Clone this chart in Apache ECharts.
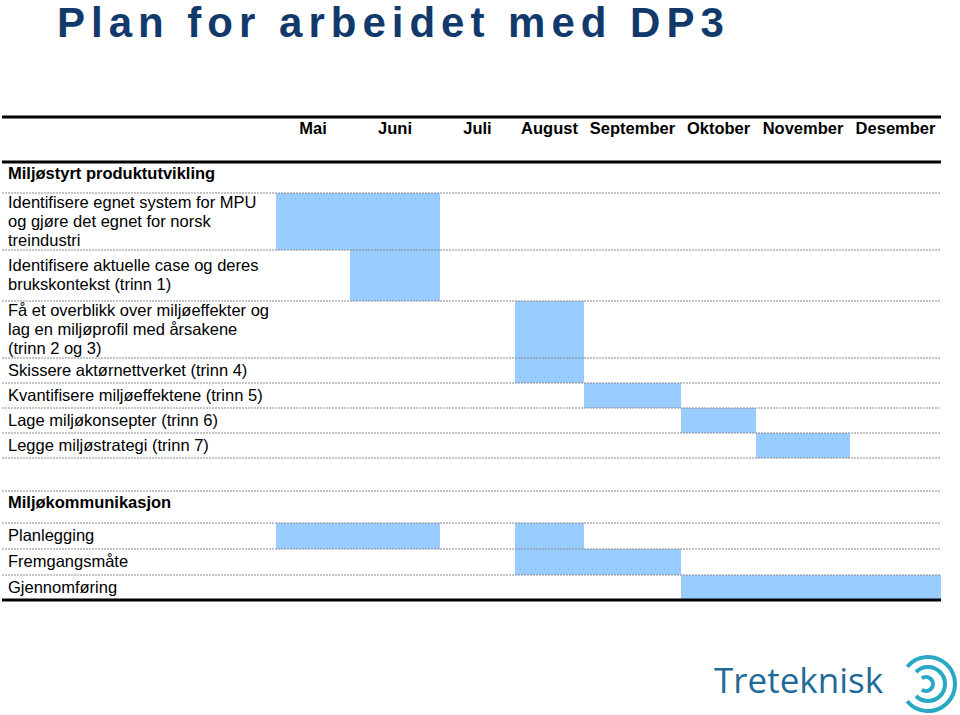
<!DOCTYPE html>
<html><head><meta charset="utf-8">
<script src="https://cdn.jsdelivr.net/npm/echarts@6/dist/echarts.min.js"></script>
<style>html,body{margin:0;padding:0;background:#fff}#chart{width:960px;height:715px}</style>
</head><body><div id="chart"></div>
<script>
// ---------- data ----------
const TITLE = 'Plan for arbeidet med DP3';
const LOGO = 'Treteknisk';
const months = ['Mai','Juni','Juli','August','September','Oktober','November','Desember'];
const rowLabels = [
  '',
  'Miljøstyrt produktutvikling',
  'Identifisere egnet system for MPU\nog gjøre det egnet for norsk\ntreindustri',
  'Identifisere aktuelle case og deres\nbrukskontekst (trinn 1)',
  'Få et overblikk over miljøeffekter og\nlag en miljøprofil med årsakene\n(trinn 2 og 3)',
  'Skissere aktørnettverket (trinn 4)',
  'Kvantifisere miljøeffektene (trinn 5)',
  'Lage miljøkonsepter (trinn 6)',
  'Legge miljøstrategi (trinn 7)',
  '',
  'Miljøkommunikasjon',
  'Planlegging',
  'Fremgangsmåte',
  'Gjennomføring'
];
const sectionRows = [1, 10];
// task bars: row index, first month index, last month index
const taskRow        = [2, 3, 4, 5, 6, 7, 8, 11, 11, 12, 13];
const taskStartMonth = [0, 1, 3, 3, 4, 5, 6, 0,  3,  3,  5];
const taskEndMonth   = [1, 1, 3, 3, 4, 5, 6, 1,  3,  4,  7];

// ---------- table layout (column widths / row heights of the table) ----------
const labelColWidth = 274;
const monthColWidths = [74, 90, 75, 69, 97, 75, 94, 91];
const rowHeights = [45, 31, 57, 51, 57, 25, 25, 25, 25, 33, 32, 26, 26, 25];

const colEdges = [labelColWidth];
monthColWidths.forEach(w => colEdges.push(colEdges[colEdges.length - 1] + w));
const xMax = colEdges[colEdges.length - 1];
const rowEdges = [0];
rowHeights.forEach(h => rowEdges.push(rowEdges[rowEdges.length - 1] + h));
const yMax = rowEdges[rowEdges.length - 1];

const monthCenters = months.map((m, i) => (colEdges[i] + colEdges[i + 1]) / 2);
const labelRows = rowLabels.map((l, i) => i).filter(i => rowLabels[i] !== '');
const labelPos = labelRows.map(i => (rowEdges[i] + rowEdges[i + 1]) / 2 - (sectionRows.includes(i) ? 5 : 1));
const labelByPos = new Map(labelPos.map((p, k) => [p, labelRows[k]]));
const monthByPos = new Map(monthCenters.map((p, k) => [p, months[k]]));

const barData = taskRow.map((r, k) => [colEdges[taskStartMonth[k]], colEdges[taskEndMonth[k] + 1], rowEdges[r], rowEdges[r + 1]]);
const sepData = rowEdges.map((y, i) => [y, (i === 0 || i === 1 || i === rowEdges.length - 1) ? 1 : 0]);

const FONT = '"Liberation Sans", Arial, Helvetica, sans-serif';

const chart = echarts.init(document.getElementById('chart'), null, {renderer: 'svg'});
chart.setOption({
  animation: false,
  backgroundColor: '#fff',
  title: {
    text: TITLE, left: 57, top: -1, padding: 0,
    textStyle: {fontSize: 42, fontWeight: 'bold', color: '#12396b', fontFamily: FONT, lineHeight: 46}
  },
  grid: {left: 2, top: 117, width: 939, height: 483},
  xAxis: {
    type: 'value', position: 'top', min: 0, max: xMax,
    axisLine: {show: false}, axisTick: {show: false}, splitLine: {show: false},
    axisLabel: {
      inside: true, margin: 2, customValues: monthCenters,
      formatter: v => monthByPos.get(v) || '',
      fontFamily: FONT, fontSize: 16.5, fontWeight: 'bold', color: '#000'
    }
  },
  yAxis: {
    type: 'value', inverse: true, min: 0, max: yMax,
    axisLine: {show: false}, axisTick: {show: false}, splitLine: {show: false},
    axisLabel: {
      inside: true, margin: 6, align: 'left', verticalAlign: 'middle', customValues: labelPos,
      formatter: v => {
        const r = labelByPos.get(v);
        if (r === undefined) return '';
        return (sectionRows.includes(r) ? '{s|' : '{n|') + rowLabels[r] + '}';
      },
      rich: {
        s: {fontFamily: FONT, fontSize: 16.5, fontWeight: 'bold', color: '#000', lineHeight: 19},
        n: {fontFamily: FONT, fontSize: 16.5, color: '#000', lineHeight: 19}
      }
    }
  },
  series: [
    {
      type: 'custom', name: 'tasks', clip: false, z: 2,
      encode: {x: [0, 1], y: [2, 3]},
      data: barData,
      renderItem: (params, api) => {
        const p0 = api.coord([api.value(0), api.value(2)]);
        const p1 = api.coord([api.value(1), api.value(3)]);
        return {type: 'rect', shape: {x: p0[0], y: p0[1], width: p1[0] - p0[0], height: p1[1] - p0[1]},
                style: {fill: '#99CCFF'}};
      }
    },
    {
      type: 'custom', name: 'rules', clip: false, z: 3, silent: true,
      encode: {y: 0},
      data: sepData,
      renderItem: (params, api) => {
        const y = api.value(0), thick = api.value(1) === 1;
        const a = api.coord([0, y]), b = api.coord([xMax, y]);
        return {type: 'line', shape: {x1: a[0], y1: a[1], x2: b[0], y2: b[1]},
                style: thick ? {stroke: '#000', lineWidth: 3} : {stroke: '#8a8a8a', lineWidth: 1, lineDash: [2, 1]}};
      }
    }
  ],
  graphic: [
    {type: 'text', left: 714, top: 662, style: {text: LOGO, font: '35px "Open Sans", "Noto Sans", sans-serif', fill: '#1f6b98'}},
    {type: 'arc', shape: {cx: 928, cy: 684, r: 27, startAngle: -Math.PI * 0.78, endAngle: Math.PI * 0.78, clockwise: true},
     style: {stroke: '#27a8c4', lineWidth: 4, fill: null}},
    {type: 'arc', shape: {cx: 928, cy: 684, r: 17, startAngle: -Math.PI * 0.75, endAngle: Math.PI * 0.75, clockwise: true},
     style: {stroke: '#27a8c4', lineWidth: 4, fill: null}},
    {type: 'arc', shape: {cx: 926, cy: 684, r: 7, startAngle: -Math.PI * 0.7, endAngle: Math.PI * 0.7, clockwise: true},
     style: {stroke: '#27a8c4', lineWidth: 4, fill: null}}
  ]
});
function spaceTitle() {
  document.querySelectorAll('#chart svg text').forEach(t => {
    if (t.textContent === TITLE) t.style.letterSpacing = '6px';
  });
}
chart.on('finished', spaceTitle);
spaceTitle();
</script>
</body></html>
